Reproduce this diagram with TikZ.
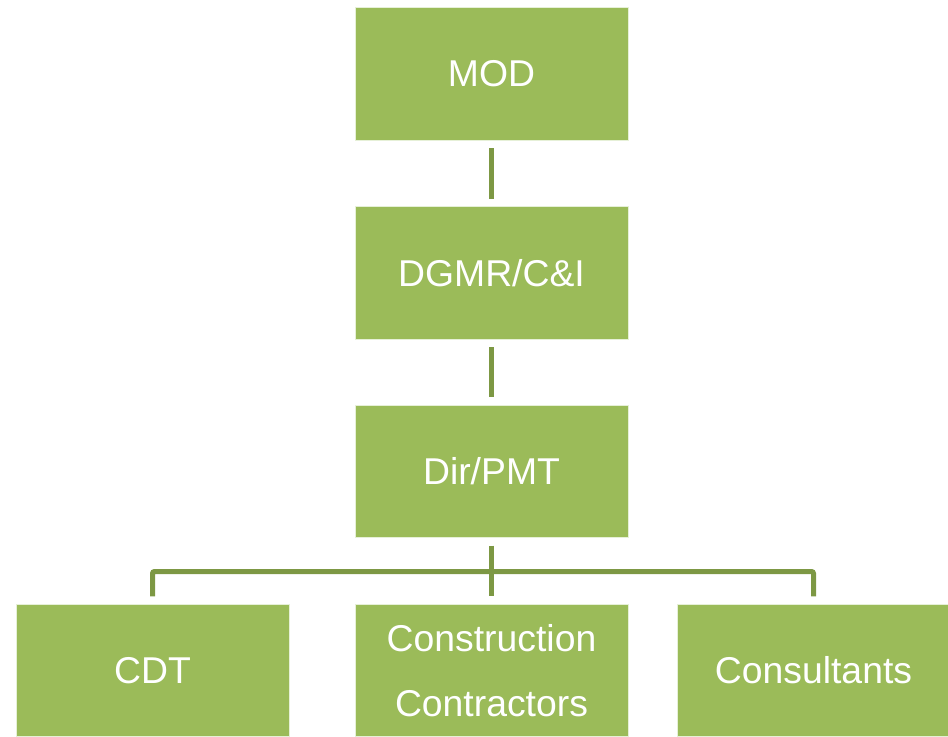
\documentclass[tikz,border=0pt]{standalone}
\usepackage{fontspec}
\setmainfont{Liberation Sans}
\usetikzlibrary{positioning}

\tikzset{every picture/.style={line width=0.75pt}}
\tikzset{
  orgbox/.style={draw={rgb, 255:red, 230; green, 240; blue, 215 }, fill={rgb, 255:red, 155; green, 187; blue, 89 }, fill opacity=1, text=white, minimum width=204.75pt, minimum height=99.5pt, inner sep=0pt, align=center, font=\fontsize{28}{49}\selectfont},
  link/.style={draw={rgb, 255:red, 125; green, 152; blue, 68 }, line width=3.75pt, shorten <=5.5pt, shorten >=5.5pt, rounded corners=1.5pt}
}

\begin{document}
\begin{tikzpicture}[x=0.75pt,y=0.75pt,yscale=-1,xscale=1]
\useasboundingbox (0,0) rectangle (948,737);

%Shape: Rectangle [MOD]
\node [orgbox] (mod) at (491.5,74) {MOD};
%Shape: Rectangle [DGMR]
\node [orgbox] (dgmr) at (491.5,273) {DGMR/C\&I};
%Shape: Rectangle [Dir]
\node [orgbox] (dir) at (491.5,471.5) {Dir/PMT};
%Shape: Rectangle [bottom row]
\node [orgbox] (cdt) at (152.5,670.5) {CDT};
\node [orgbox] (cstr) at (491.5,670.5) {Construction\\Contractors};
\node [orgbox] (cons) at (813.5,670.5) {Consultants};

%Straight Lines
\coordinate (bus) at (491.5,571.5);
\draw [link] (mod) -- (dgmr);
\draw [link] (dgmr) -- (dir);
\draw [link] (dir) -- (cstr);
\draw [link] (cdt.north) |- (bus) -| (cons.north);

\end{tikzpicture}
\end{document}
